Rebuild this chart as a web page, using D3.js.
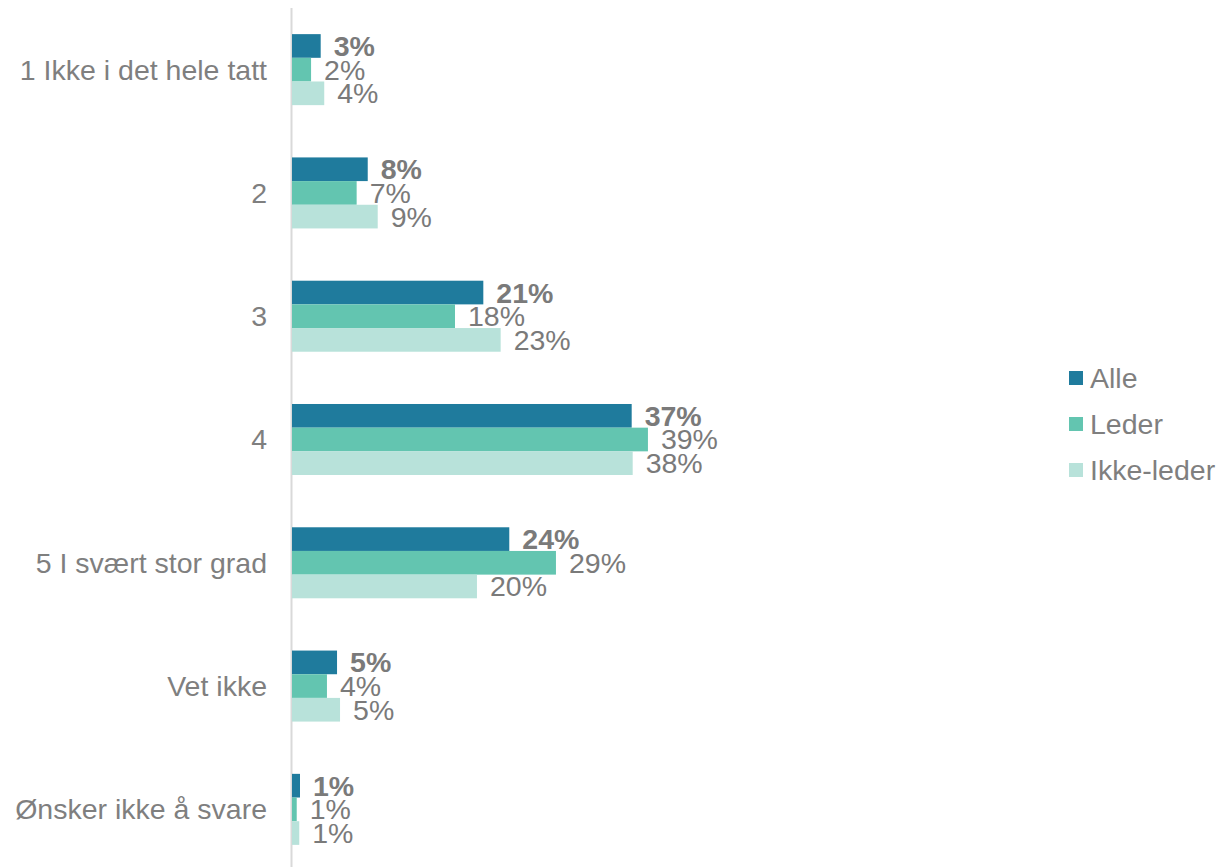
<!DOCTYPE html>
<html>
<head>
<meta charset="utf-8">
<script src="https://cdn.jsdelivr.net/npm/d3@7"></script>
<style>
  html, body { margin: 0; padding: 0; background: #ffffff; }
  svg { display: block; font-family: "Liberation Sans", Arial, sans-serif; }
</style>
</head>
<body>
<svg id="chart" width="1223" height="867"></svg>
<script>
const categories = ["1 Ikke i det hele tatt", "2", "3", "4", "5 I svært stor grad", "Vet ikke", "Ønsker ikke å svare"];
const seriesNames = ["Alle", "Leder", "Ikke-leder"];
const alleValues      = [0.0316, 0.0834, 0.2107, 0.3741, 0.2393, 0.0496, 0.0088];
const lederValues     = [0.0210, 0.0712, 0.1795, 0.3920, 0.2907, 0.0385, 0.0052];
const ikkeLederValues = [0.0355, 0.0944, 0.2298, 0.3752, 0.2037, 0.0529, 0.0080];
const seriesColors = ["#1f7b9d", "#63c5b0", "#b8e2da"];

const seriesValues = [alleValues, lederValues, ikkeLederValues];
const rows = categories.map((c, i) => ({
  category: c,
  values: seriesNames.map((s, j) => ({ series: s, idx: j, value: seriesValues[j][i] }))
}));

const svg = d3.select("#chart");
const x0 = 292;
const fs = 28.5;

const x = d3.scaleLinear().domain([0, 1]).range([x0, x0 + 908]);
const y = d3.scaleBand().domain(categories).range([8, 871]).paddingInner(0.424).paddingOuter(0.212);
const ySub = d3.scaleBand().domain(seriesNames).range([0, y.bandwidth()]).padding(0);
const color = d3.scaleOrdinal().domain(seriesNames).range(seriesColors);

// vertical axis line
svg.append("line")
  .attr("x1", x0 - 0.5).attr("x2", x0 - 0.5)
  .attr("y1", 8).attr("y2", 867)
  .attr("stroke", "#d9d9d9").attr("stroke-width", 2);

// category labels
svg.append("g").selectAll("text")
  .data(categories).join("text")
  .attr("x", x0 - 25)
  .attr("y", d => y(d) + y.bandwidth() / 2)
  .attr("dy", "0.35em")
  .attr("text-anchor", "end")
  .attr("font-size", fs)
  .attr("fill", "#7f7f7f")
  .text(d => d);

const groups = svg.append("g").selectAll("g")
  .data(rows).join("g")
  .attr("transform", d => `translate(0,${y(d.category)})`);

groups.selectAll("rect")
  .data(d => d.values).join("rect")
  .attr("x", x(0))
  .attr("y", d => ySub(d.series))
  .attr("width", d => x(d.value) - x(0))
  .attr("height", ySub.bandwidth())
  .attr("fill", d => color(d.series));

groups.selectAll("text")
  .data(d => d.values).join("text")
  .attr("x", d => x(d.value) + 13)
  .attr("y", d => ySub(d.series) + ySub.bandwidth() / 2)
  .attr("dy", "0.35em")
  .attr("font-size", fs)
  .attr("font-weight", d => d.idx === 0 ? "bold" : "normal")
  .attr("fill", "#7a7a7a")
  .text(d => Math.round(d.value * 100) + "%");

// legend
const legend = svg.append("g").selectAll("g")
  .data(seriesNames).join("g")
  .attr("transform", (d, i) => `translate(1069,${378 + i * 46})`);
legend.append("rect")
  .attr("x", 0).attr("y", -7)
  .attr("width", 14).attr("height", 14)
  .attr("fill", d => color(d));
legend.append("text")
  .attr("x", 21).attr("y", 0).attr("dy", "0.35em")
  .attr("font-size", fs)
  .attr("fill", "#7f7f7f")
  .text(d => d);
</script>
</body>
</html>
